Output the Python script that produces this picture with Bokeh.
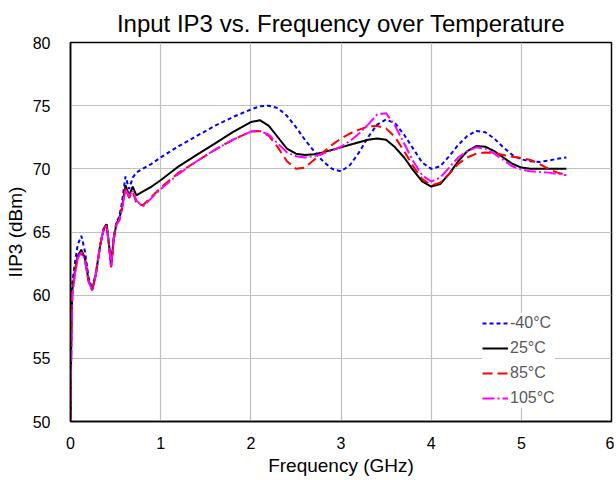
from bokeh.plotting import figure
from bokeh.models import Legend, LegendItem, Range1d, FixedTicker
from bokeh.embed import file_html
from bokeh.resources import INLINE

# ---- data ----
early_x = [0, 0.01, 0.02, 0.05, 0.08, 0.12, 0.16, 0.20, 0.24, 0.28, 0.33, 0.37, 0.40,
           0.43, 0.45, 0.48, 0.51, 0.54, 0.57, 0.61, 0.65, 0.69, 0.73]
main_x = [0.8, 0.9, 1.0, 1.2, 1.4, 1.6, 1.8, 2.0, 2.1, 2.2, 2.3, 2.4, 2.5, 2.6, 2.7, 2.8,
          2.9, 3.0, 3.1, 3.2, 3.3, 3.4, 3.5, 3.6, 3.7, 3.8, 3.9, 4.0, 4.1, 4.2, 4.3,
          4.4, 4.5, 4.6, 4.7, 4.8, 4.9, 5.0, 5.1, 5.2, 5.3, 5.4, 5.5]

freq_ghz = early_x + main_x

iip3_m40 = [50.3, 58.0, 61.0, 62.6, 64.0, 64.7, 63.5, 61.4, 60.5, 61.7, 64.0, 65.3, 65.6,
            63.8, 62.3, 64.6, 65.8, 66.2, 67.3, 69.4, 68.4, 69.3, 69.7,
            70.0, 70.4, 70.9, 71.8, 72.6, 73.4, 74.1, 74.7, 74.95, 75.0, 74.8, 74.2, 73.3,
            72.3, 71.4, 70.6, 70.0, 69.8, 70.3, 71.3, 72.5, 73.5, 73.9, 73.6, 72.7, 71.6,
            70.5, 70.0, 70.2, 71.0, 71.9, 72.6, 73.0, 72.9, 72.4, 71.7, 71.1, 70.75, 70.6,
            70.55, 70.65, 70.8, 70.9]
iip3_25 = [50.2, 57.5, 60.4, 62.0, 63.1, 63.6, 62.9, 61.2, 60.4, 61.6, 64.0, 65.3, 65.6,
           63.8, 62.3, 64.5, 65.7, 66.0, 66.9, 68.7, 67.9, 68.6, 67.9,
           68.2, 68.6, 69.1, 70.2, 71.1, 72.0, 72.9, 73.7, 73.85, 73.4, 72.5, 71.6, 71.2,
           71.1, 71.15, 71.3, 71.5, 71.7, 71.9, 72.1, 72.3, 72.4, 72.3, 71.7, 70.9, 69.9,
           69.0, 68.6, 68.8, 69.6, 70.6, 71.4, 71.8, 71.75, 71.4, 70.9, 70.4, 70.1, 70.0,
           70.0, 70.0, 70.0, 70.0]
iip3_85 = [50.0, 57.0, 60.2, 61.8, 63.0, 63.4, 62.8, 61.1, 60.4, 61.6, 64.0, 65.3, 65.5,
           63.8, 62.2, 64.4, 65.6, 65.9, 66.8, 68.5, 67.7, 68.2, 67.3,
           67.1, 67.8, 68.5, 69.7, 70.6, 71.5, 72.3, 72.95, 73.0, 72.6, 71.7, 70.6, 70.0,
           70.1, 70.7, 71.3, 71.9, 72.4, 72.8, 73.1, 73.35, 73.4, 73.2, 72.5, 71.4, 70.2,
           69.2, 68.7, 68.9, 69.6, 70.4, 70.9, 71.2, 71.3, 71.25, 71.1, 70.95, 70.85, 70.7,
           70.4, 70.0, 69.7, 69.5]
iip3_105 = [50.0, 56.5, 60.0, 61.7, 62.9, 63.4, 62.8, 61.1, 60.4, 61.6, 64.0, 65.3, 65.5,
            63.8, 62.2, 64.4, 65.6, 65.9, 66.8, 68.4, 67.8, 68.3, 67.5,
            67.0, 67.7, 68.4, 69.6, 70.6, 71.5, 72.3, 72.95, 73.0, 72.7, 72.0, 71.3, 71.0,
            70.9, 71.0, 71.2, 71.45, 71.75, 72.2, 72.8, 73.5, 74.3, 74.4, 73.4, 72.0, 70.6,
            69.5, 69.0, 69.3, 70.1, 70.9, 71.4, 71.7, 71.6, 71.2, 70.7, 70.2, 69.95, 69.8,
            69.75, 69.7, 69.6, 69.5]

labels = ["-40°C", "25°C", "85°C", "105°C"]
x_ticks = [0, 1, 2, 3, 4, 5, 6]
y_ticks = [50, 55, 60, 65, 70, 75, 80]

FONT = "Liberation Sans"

p = figure(width=614, height=478, output_backend="svg", toolbar_location=None,
           x_range=Range1d(0, 6), y_range=Range1d(50, 80),
           min_border_left=70, min_border_right=3, min_border_top=42, min_border_bottom=54)

p.title.text = "Input IP3 vs. Frequency over Temperature"
p.title.align = "center"
p.title.text_font = FONT
p.title.text_font_size = "24px"
p.title.text_font_style = "normal"
p.title.text_color = "black"
p.title.standoff = 11

p.xaxis.ticker = FixedTicker(ticks=x_ticks)
p.yaxis.ticker = FixedTicker(ticks=y_ticks)
p.xaxis.axis_label = "Frequency (GHz)"
p.yaxis.axis_label = "IIP3 (dBm)"
for ax in (p.xaxis, p.yaxis):
    ax.axis_label_text_font = FONT
    ax.axis_label_text_font_size = "19px"
    ax.axis_label_text_font_style = "normal"
    ax.axis_label_text_color = "black"
    ax.major_label_text_font = FONT
    ax.major_label_text_font_size = "16px"
    ax.major_label_text_color = "black"
    ax.major_tick_line_color = None
    ax.minor_tick_line_color = None
    ax.axis_line_color = "black"
    ax.axis_line_width = 1.5
p.xaxis.major_label_standoff = 9
p.yaxis.major_label_standoff = 14
p.xaxis.axis_label_standoff = 3
p.yaxis.axis_label_standoff = 4

p.xgrid.grid_line_color = "#C0C0C0"
p.ygrid.grid_line_color = "#C0C0C0"
p.xgrid.grid_line_width = 1.2
p.ygrid.grid_line_width = 1.2
p.outline_line_color = "black"
p.outline_line_width = 1.5
p.outline_line_alpha = 1.0

r1 = p.line(freq_ghz, iip3_m40, line_color="#0000FF", line_width=2, line_dash="4 3")
r2 = p.line(freq_ghz, iip3_25, line_color="black", line_width=2)
r3 = p.line(freq_ghz, iip3_85, line_color="#FF0000", line_width=2, line_dash="10 5")
r4 = p.line(freq_ghz, iip3_105, line_color="#FF00FF", line_width=2, line_dash="12 3 2 3")

legend = Legend(items=[LegendItem(label=labels[0], renderers=[r1]),
                       LegendItem(label=labels[1], renderers=[r2]),
                       LegendItem(label=labels[2], renderers=[r3]),
                       LegendItem(label=labels[3], renderers=[r4])],
                location=(412, 13), glyph_width=26, glyph_height=20, label_height=20,
                spacing=5, padding=8, label_standoff=2, margin=0,
                label_text_font=FONT, label_text_font_size="16px",
                label_text_color="#595959", border_line_color=None,
                background_fill_color="white", background_fill_alpha=1.0)
p.add_layout(legend, "center")

open("out.html", "w").write(file_html(p, INLINE))
